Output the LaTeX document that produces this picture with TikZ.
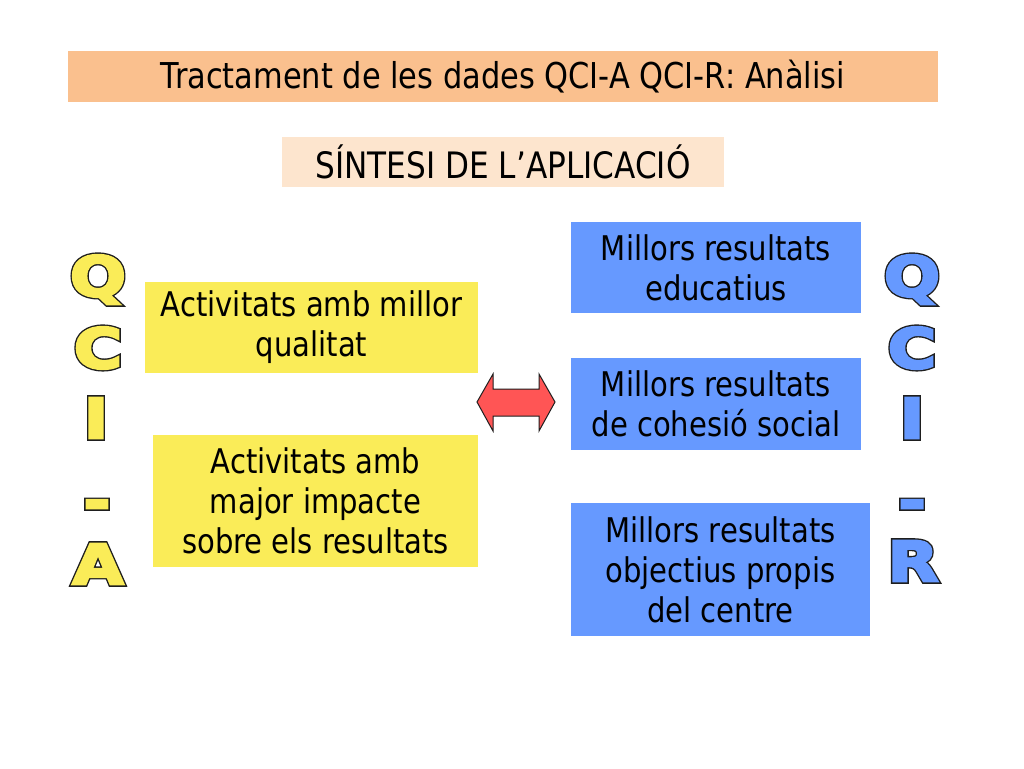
\documentclass[tikz,border=0pt]{standalone}
\usepackage{fontspec}
\setmainfont{DejaVu Sans}[FakeStretch=0.855]
\newfontfamily\letterfill{DejaVu Sans Bold}[FakeStretch=1.2, FakeBold=5]
\newfontfamily\letterline{DejaVu Sans Bold}[FakeStretch=1.2, FakeBold=10]
\definecolor{titlebg}{RGB}{250,192,142}
\definecolor{sintbg}{RGB}{253,229,206}
\definecolor{ybox}{RGB}{250,236,88}
\definecolor{bbox}{RGB}{102,153,255}
\definecolor{ared}{RGB}{255,85,85}
\definecolor{outl}{RGB}{30,30,30}
\tikzset{
  box/.style={inner sep=0pt, align=center, font=\fontsize{34}{40}\selectfont},
  bigletter/.style={inner sep=0pt, anchor=base}
}
\newcommand{\fat}[2]{\fontsize{55}{55}\selectfont\rlap{\letterline\color{outl}#2}{\letterfill\color{#1}#2}}
\begin{document}
\begin{tikzpicture}[x=1pt,y=-1pt]
\useasboundingbox (0,0) rectangle (1024,768);
\fill[white] (0,0) rectangle (1024,768);
% header boxes
\node[box, fill=titlebg, minimum width=870, minimum height=51, font=\fontsize{35.6}{40}\selectfont] (title) at (503,76.5) {Tractament de les dades QCI-A QCI-R: Anàlisi};
\node[box, fill=sintbg, minimum width=442, minimum height=50, font=\fontsize{36.4}{40}\selectfont] (sint) at (503,162) {SÍNTESI DE L’APLICACIÓ};
% yellow boxes
\node[box, fill=ybox, minimum width=333, minimum height=91] (act1) at (311.5,327.5) {Activitats amb millor\\qualitat};
\node[box, fill=ybox, minimum width=325, minimum height=132] (act2) at (315.5,501) {Activitats amb\\major impacte\\sobre els resultats};
% blue boxes
\node[box, fill=bbox, minimum width=290, minimum height=91] (res1) at (716,267.5) {Millors resultats\\educatius};
\node[box, fill=bbox, minimum width=290, minimum height=92] (res2) at (716,404) {Millors resultats\\de cohesió social};
\node[box, fill=bbox, minimum width=299, minimum height=133] (res3) at (720.5,569.5) {Millors resultats\\objectius propis\\del centre};
% double arrow
\draw[fill=ared, draw=outl, line width=1pt, line join=miter]
  (477,402) -- (493,374) -- (493,389) -- (539,389) -- (539,374) -- (555,402)
  -- (539,431) -- (539,416) -- (493,416) -- (493,431) -- cycle;
% left vertical letters
\node[bigletter] (lq) at (98,296) {\fat{ybox}{Q}};
\node[bigletter] (lc) at (98,368) {\fat{ybox}{C}};
\node[bigletter] (li) at (96,438) {\fat{ybox}{I}};
\node[bigletter] (ld) at (97,520) {\fat{ybox}{-}};
\node[bigletter] (la) at (98,584) {\fat{ybox}{A}};
% right vertical letters
\node[bigletter] (rq) at (912,296) {\fat{bbox}{Q}};
\node[bigletter] (rc) at (912,368) {\fat{bbox}{C}};
\node[bigletter] (ri) at (912,438) {\fat{bbox}{I}};
\node[bigletter] (rd) at (912,520) {\fat{bbox}{-}};
\node[bigletter] (rr) at (913,581) {\fat{bbox}{R}};
\end{tikzpicture}
\end{document}
